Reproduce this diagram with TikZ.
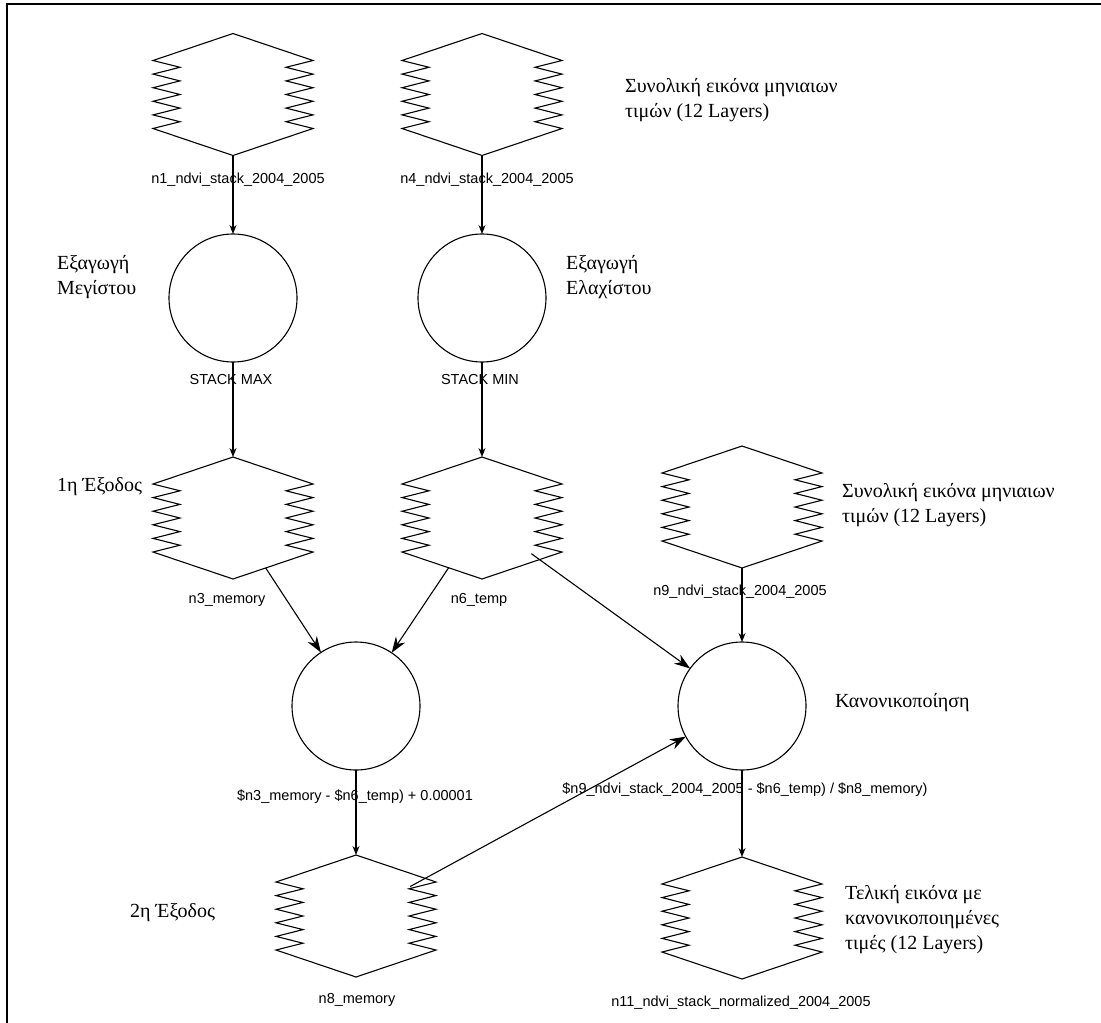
\documentclass[tikz,border=0pt]{standalone}
\usepackage{fontspec}
\setmainfont{Liberation Serif}
\newfontfamily\lblfont{Liberation Sans}
\usetikzlibrary{shapes.geometric,arrows.meta,calc}

\tikzset{
  stackbox/.style={shape=diamond, draw=none, minimum width=360pt, minimum height=122pt, inner sep=0pt, outer sep=0pt},
  procbox/.style={circle, draw, line width=1.1pt, minimum size=128pt, inner sep=0pt, outer sep=0pt},
  lbl/.style={font=\lblfont\fontsize{14.5}{16}\selectfont, inner sep=0pt},
  note/.style={font=\fontsize{20}{25}\selectfont, align=left, anchor=west, inner sep=0pt},
  flow/.style={draw, line width=1.1pt, -{Stealth[length=9pt,width=7pt]}},
  bigflow/.style={draw, line width=1.1pt, -{Stealth[length=16pt,width=11pt]}},
  stackline/.style={draw, line width=1.1pt, line join=miter},
}
\newcommand\stackdraw[1]{%
  \draw[stackline, shift={(#1.center)}] (0,-61) -- (80,-34)
    -- (53,-27.2) -- (80,-20.4) -- (53,-13.6) -- (80,-6.8) -- (53,0) -- (80,6.8)
    -- (53,13.6) -- (80,20.4) -- (53,27.2) -- (80,34)
    -- (0,61) -- (-80,34)
    -- (-53,27.2) -- (-80,20.4) -- (-53,13.6) -- (-80,6.8) -- (-53,0) -- (-80,-6.8)
    -- (-53,-13.6) -- (-80,-20.4) -- (-53,-27.2) -- (-80,-34) -- cycle;}

\begin{document}
\begin{tikzpicture}[x=1pt,y=-1pt]
\useasboundingbox (0,0) rectangle (1101,1023);
\draw[line width=2pt] (7,1023) -- (7,4) -- (1101,4);

% stacks
\node[stackbox] (n1) at (233,94.5) {};
\node[stackbox] (n4) at (482,94.5) {};
\node[stackbox] (n3) at (233,518) {};
\node[stackbox] (n6) at (482,518) {};
\node[stackbox] (n9) at (742,507) {};
\node[stackbox] (n8) at (356,916) {};
\node[stackbox] (n11) at (742,918) {};
\foreach \s in {n1,n4,n3,n6,n9,n8,n11} {\stackdraw{\s}}

% processes
\node[procbox] (n2) at (233,298) {};
\node[procbox] (n5) at (482,298) {};
\node[procbox] (n7) at (356,706) {};
\node[procbox] (n10) at (742,706) {};

% labels
\node[lbl] (n1l) at (238,180) {n1\_ndvi\_stack\_2004\_2005};
\node[lbl] (n4l) at (487,180) {n4\_ndvi\_stack\_2004\_2005};
\node[lbl] (n2l) at (231,380) {STACK MAX};
\node[lbl] (n5l) at (480,380) {STACK MIN};
\node[lbl] (n3l) at (227,600) {n3\_memory};
\node[lbl] (n6l) at (479,600) {n6\_temp};
\node[lbl] (n9l) at (740,592) {n9\_ndvi\_stack\_2004\_2005};
\node[lbl] (n7l) at (355,797) {\$n3\_memory - \$n6\_temp) + 0.00001};
\node[lbl] (n10l) at (745,790) {\$n9\_ndvi\_stack\_2004\_2005 - \$n6\_temp) / \$n8\_memory)};
\node[lbl] (n8l) at (357,1000) {n8\_memory};
\node[lbl] (n11l) at (741,1003) {n11\_ndvi\_stack\_normalized\_2004\_2005};

% notes
\node[note] (t1) at (625,100) {Συνολική εικόνα μηνιαιων\\τιμών (12 Layers)};
\node[note] (t2) at (57,277) {Εξαγωγή\\Μεγίστου};
\node[note] (t3) at (566,277) {Εξαγωγή\\Ελαχίστου};
\node[note] (t4) at (57,487) {1η Έξοδος};
\node[note] (t5) at (842,505) {Συνολική εικόνα μηνιαιων\\τιμών (12 Layers)};
\node[note] (t6) at (835,703) {Κανονικοποίηση};
\node[note] (t7) at (130,913) {2η Έξοδος};
\node[note] (t8) at (845,920) {Τελική εικόνα με\\κανονικοποιημένες\\τιμές (12 Layers)};

% connectors
\draw[flow] (n1) -- (n2);
\draw[flow] (n4) -- (n5);
\draw[flow] (n2) -- (n3);
\draw[flow] (n5) -- (n6);
\draw[bigflow] (n3) -- (n7);
\draw[bigflow] (n6) -- (n7);
\draw[bigflow, shorten <=-10pt] (n6) -- (n10);
\draw[flow] (n9) -- (n10);
\draw[flow] (n7) -- (n8);
\draw[bigflow, shorten <=-17pt] (n8) -- (n10);
\draw[flow] (n10) -- (n11);
\end{tikzpicture}
\end{document}
